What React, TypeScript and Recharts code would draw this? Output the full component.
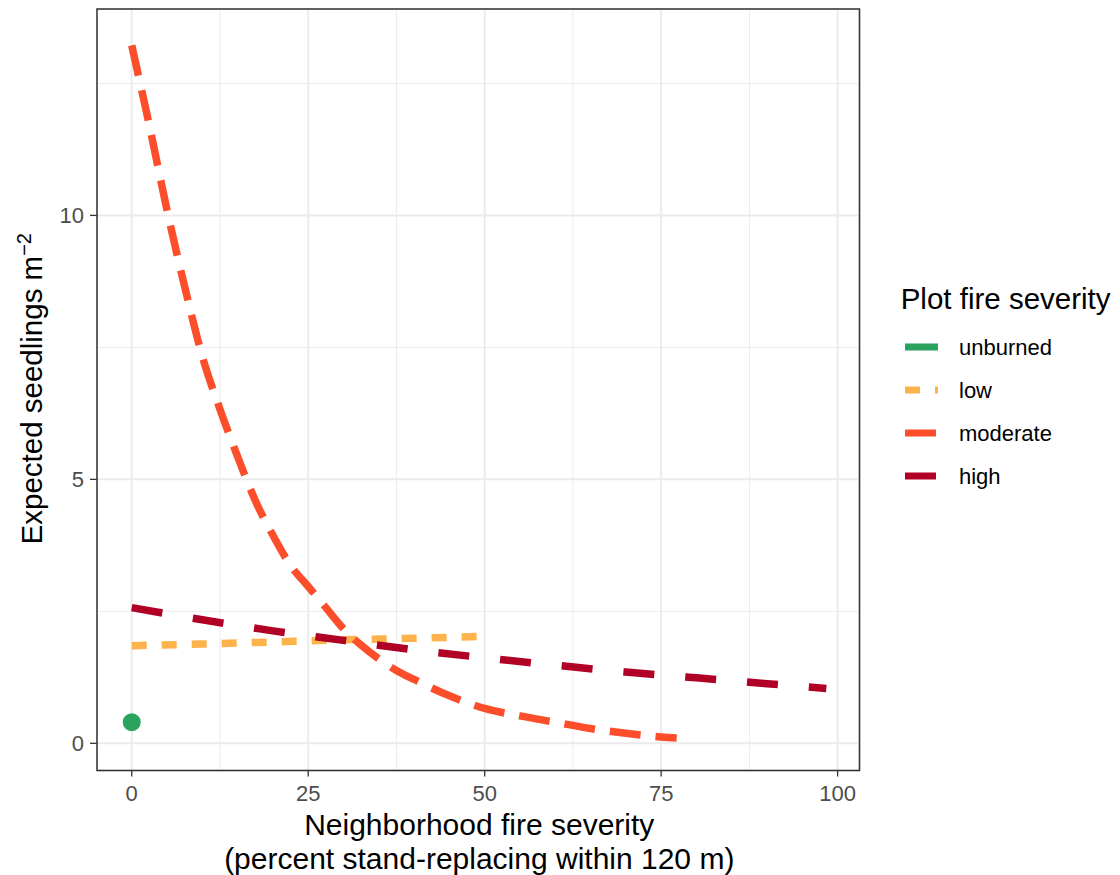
import React from 'react';
import {
    ComposedChart, Line, Scatter, XAxis, YAxis, CartesianGrid, ReferenceArea, Legend, Label,
} from 'recharts';

const FONT = '"Liberation Sans", Arial, Helvetica, sans-serif';

// neighborhood fire severity (x) vs expected seedlings per m2 (y)
const unburnedX = [0];
const unburnedY = [0.4];

const lowX = [0, 10, 20, 30, 40, 50.6];
const lowY = [1.85, 1.88, 1.92, 1.96, 1.99, 2.03];

const moderateX = [0, 2.5, 5, 7.5, 10, 12.5, 15, 17.5, 20, 22.5, 25, 27.5, 30, 32.5, 35, 37.5, 40, 45, 50, 55, 60, 65, 70, 75, 77.2];
const moderateY = [13.22, 11.7, 10.1, 8.65, 7.33, 6.33, 5.43, 4.6, 3.94, 3.37, 2.97, 2.57, 2.17, 1.86, 1.6, 1.38, 1.21, 0.9, 0.66, 0.52, 0.4, 0.28, 0.19, 0.12, 0.1];

const highX = [0, 10, 20, 30, 40, 50, 60, 70, 80, 90, 98.4];
const highY = [2.57, 2.34, 2.13, 1.95, 1.77, 1.62, 1.48, 1.35, 1.24, 1.13, 1.04];

const xTicks = [0, 25, 50, 75, 100];
const yTicks = [0, 5, 10];
const xMinor = [12.5, 37.5, 62.5, 87.5];
const yMinor = [2.5, 7.5, 12.5];

const X_DOMAIN: [number, number] = [-4.92, 103.1];
const Y_DOMAIN: [number, number] = [-0.515, 13.91];

const SERIES = [
    { name: 'unburned', color: '#2CA25F', dash: undefined as string | undefined },
    { name: 'low', color: '#FEB24C', dash: '15 15' },
    { name: 'moderate', color: '#FC4E2A', dash: '31 15' },
    { name: 'high', color: '#B10026', dash: '31 31' },
];

const toPoints = (xs: number[], ys: number[]) => xs.map((x, i) => ({ x, y: ys[i] }));

const XTitle = (props: any) => {
    const vb = props.viewBox || { x: 97, y: 770.5, width: 762.5, height: 104.5 };
    const cx = vb.x + vb.width / 2 + 1;
    return (
        <text textAnchor="middle" fontFamily={FONT} fontSize={30} fill="#000">
            <tspan x={cx} y={vb.y + 64.5}>Neighborhood fire severity</tspan>
            <tspan x={cx} y={vb.y + 98}>(percent stand-replacing within 120 m)</tspan>
        </text>
    );
};

const YTitle = (props: any) => {
    const vb = props.viewBox || { x: 0, y: 9, width: 97, height: 761.5 };
    const cx = vb.x + 41.7;
    const cy = vb.y + vb.height / 2 - 1;
    return (
        <text
            x={cx}
            y={cy}
            transform={`rotate(-90, ${cx}, ${cy})`}
            textAnchor="middle"
            fontFamily={FONT}
            fontSize={29.5}
            fill="#000"
        >
            Expected seedlings m
            <tspan dy={-11} fontSize={20}>{'\u22122'}</tspan>
        </text>
    );
};

const renderLegend = () => (
    <svg width={225} height={210} style={{ overflow: 'visible' }}>
        <text x={5.7} y={29} fontFamily={FONT} fontSize={29.5} fill="#000">Plot fire severity</text>
        {SERIES.map((s, i) => {
            const cy = 67 + i * 43;
            return (
                <g key={s.name}>
                    <line x1={10} x2={43} y1={cy} y2={cy} stroke={s.color} strokeWidth={7} strokeDasharray={s.dash} />
                    <text x={64} y={cy} dominantBaseline="central" fontFamily={FONT} fontSize={22} fill="#000">
                        {s.name}
                    </text>
                </g>
            );
        })}
    </svg>
);

const tickStyle = { fill: '#4D4D4D', fontSize: 22, fontFamily: FONT };

const App: React.FC = () => {
    const [unburned, low, moderate, high] = SERIES;
    return (
        <div style={{ position: 'absolute', left: 0, top: 0, background: '#fff' }}>
            <ComposedChart width={1120} height={875} margin={{ top: 9, right: 260.5, bottom: 0, left: 0 }}>
                <CartesianGrid
                    stroke="#EBEBEB"
                    strokeWidth={1}
                    verticalValues={xMinor}
                    horizontalValues={yMinor}
                />
                <CartesianGrid stroke="#EBEBEB" strokeWidth={2} />
                <XAxis
                    dataKey="x"
                    type="number"
                    domain={X_DOMAIN}
                    ticks={xTicks}
                    allowDataOverflow
                    height={104.5}
                    axisLine={false}
                    tickLine={{ stroke: '#333333', strokeWidth: 1.3 }}
                    tickSize={6}
                    tickMargin={8.5}
                    tick={tickStyle}
                >
                    <Label content={(p: any) => <XTitle {...p} />} />
                </XAxis>
                <YAxis
                    dataKey="y"
                    type="number"
                    domain={Y_DOMAIN}
                    ticks={yTicks}
                    allowDataOverflow
                    width={97}
                    axisLine={false}
                    tickLine={{ stroke: '#333333', strokeWidth: 1.3 }}
                    tickSize={7}
                    tickMargin={6}
                    tick={tickStyle}
                >
                    <Label content={(p: any) => <YTitle {...p} />} />
                </YAxis>
                <Legend
                    layout="vertical"
                    align="center"
                    verticalAlign="middle"
                    content={renderLegend}
                    wrapperStyle={{ position: 'absolute', left: 895, top: 280, width: 225, height: 210 }}
                />
                <Line
                    data={toPoints(lowX, lowY)}
                    dataKey="y"
                    name={low.name}
                    type="monotone"
                    stroke={low.color}
                    strokeWidth={7.5}
                    strokeDasharray={low.dash}
                    dot={false}
                    activeDot={false}
                    isAnimationActive={false}
                />
                <Line
                    data={toPoints(highX, highY)}
                    dataKey="y"
                    name={high.name}
                    type="monotone"
                    stroke={high.color}
                    strokeWidth={7.5}
                    strokeDasharray={high.dash}
                    dot={false}
                    activeDot={false}
                    isAnimationActive={false}
                />
                <Line
                    data={toPoints(moderateX, moderateY)}
                    dataKey="y"
                    name={moderate.name}
                    type="monotone"
                    stroke={moderate.color}
                    strokeWidth={7.5}
                    strokeDasharray={moderate.dash}
                    dot={false}
                    activeDot={false}
                    isAnimationActive={false}
                />
                <Scatter
                    data={toPoints(unburnedX, unburnedY)}
                    dataKey="y"
                    name={unburned.name}
                    fill={unburned.color}
                    isAnimationActive={false}
                    shape={(p: any) => <circle cx={p.cx} cy={p.cy} r={9} fill={unburned.color} />}
                />
                <ReferenceArea
                    x1={X_DOMAIN[0]}
                    x2={X_DOMAIN[1]}
                    y1={Y_DOMAIN[0]}
                    y2={Y_DOMAIN[1]}
                    fill="none"
                    stroke="#333333"
                    strokeWidth={1.5}
                    ifOverflow="visible"
                />
            </ComposedChart>
        </div>
    );
};

export default App;
